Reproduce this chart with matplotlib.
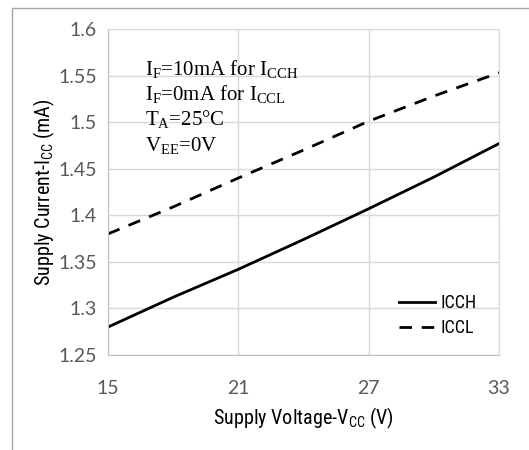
import matplotlib
matplotlib.use('Agg')
import matplotlib.pyplot as plt
from matplotlib.patches import Rectangle
from matplotlib.ticker import FuncFormatter

# Supply current vs supply voltage
vcc = [15, 18, 21, 24, 27, 30, 33]
icch = [1.280, 1.312, 1.342, 1.374, 1.407, 1.441, 1.477]
iccl = [1.380, 1.409, 1.440, 1.470, 1.501, 1.528, 1.553]

x_ticks = [15, 21, 27, 33]
y_ticks = [1.25, 1.3, 1.35, 1.4, 1.45, 1.5, 1.55, 1.6]

plt.rcParams['mathtext.fontset'] = 'custom'
plt.rcParams['mathtext.rm'] = 'Liberation Serif'
plt.rcParams['mathtext.it'] = 'Liberation Serif'

label_font = ['Roboto Condensed', 'DejaVu Sans']
tick_font = ['Lato', 'DejaVu Sans']
tick_color = '#595959'
grid_color = '#d9d9d9'

fig = plt.figure(figsize=(5.29, 4.5), dpi=100)
ax = fig.add_axes([108/529, 1-355/450, (499-108)/529, (355-29)/450])

# outer chart border (only left/top visible in the crop)
fig.patches.append(Rectangle((12/529, -0.1), 1.2, 1 - 8/450 + 0.1,
                             transform=fig.transFigure, fill=False,
                             edgecolor='#a6a6a6', linewidth=1.0))

ax.plot(vcc, icch, color='black', linewidth=2.0, label='ICCH')
ax.plot(vcc, iccl, color='black', linewidth=2.0, linestyle=(0, (4.5, 3.5)), label='ICCL')

ax.set_xlim(15, 33)
ax.set_ylim(1.25, 1.6)
ax.set_xticks(x_ticks)
ax.set_yticks(y_ticks)
ax.yaxis.set_major_formatter(FuncFormatter(lambda v, p: '%g' % v))
ax.tick_params(axis='both', length=0, labelsize=14, labelcolor=tick_color)
ax.tick_params(axis='x', pad=18)
ax.tick_params(axis='y', pad=8)
for lab in ax.get_xticklabels() + ax.get_yticklabels():
    lab.set_family(tick_font)

ax.grid(True, color=grid_color, linewidth=1.0)
for s in ax.spines.values():
    s.set_color(grid_color)
ax.spines['bottom'].set_color('#bfbfbf')
ax.spines['left'].set_color('#bfbfbf')

ax.set_xlabel('Supply Voltage-V$_{\\mathregular{CC}}$ (V)', fontsize=14.5,
              family=label_font, labelpad=6)
ax.set_ylabel('Supply Current-I$_{\\mathregular{CC}}$ (mA)', fontsize=14.5,
              family=label_font, labelpad=1)

notes = ['I$_{\\mathregular{F}}$=10mA for I$_{\\mathregular{CCH}}$',
         'I$_{\\mathregular{F}}$=0mA for I$_{\\mathregular{CCL}}$',
         'T$_{\\mathregular{A}}$=25°C',
         'V$_{\\mathregular{EE}}$=0V']
for i, t in enumerate(notes):
    ax.text(0.095, 0.86 - i * 0.078, t, transform=ax.transAxes,
            fontsize=15, family='Liberation Serif', va='baseline')

leg = ax.legend(loc='lower right', bbox_to_anchor=(0.985, 0.005), frameon=False,
                prop={'family': label_font, 'size': 13},
                handlelength=2.0, handletextpad=0.3, labelspacing=0.4)

fig.savefig('out.png', dpi=100)
